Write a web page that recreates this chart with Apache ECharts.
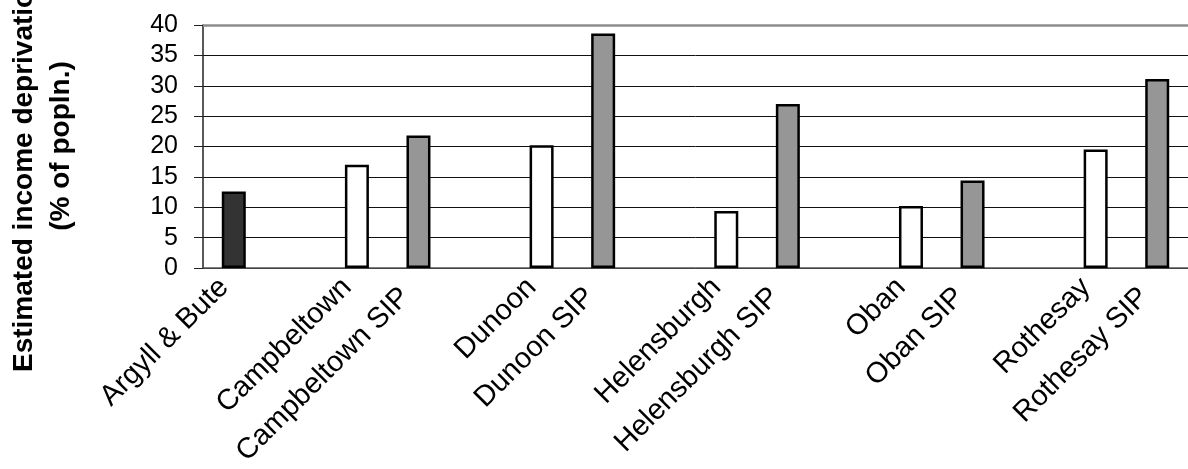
<!DOCTYPE html>
<html>
<head>
<meta charset="utf-8">
<script src="https://cdn.jsdelivr.net/npm/echarts@6/dist/echarts.min.js"></script>
<style>
  html, body { margin: 0; padding: 0; background: #ffffff; }
  #chart { width: 1188px; height: 469px; }
</style>
</head>
<body>
<div id="chart"></div>
<script>
// Areas, with blank slots separating each town pair
const categories = [
  'Argyll & Bute', '',
  'Campbeltown', 'Campbeltown SIP', '',
  'Dunoon', 'Dunoon SIP', '',
  'Helensburgh', 'Helensburgh SIP', '',
  'Oban', 'Oban SIP', '',
  'Rothesay', 'Rothesay SIP'
];
// Estimated income deprivation (% of population); null = empty slot
const values = [
  12.6, null,
  17.0, 21.8, null,
  20.2, 38.6, null,
  9.4, 27.0, null,
  10.2, 14.4, null,
  19.5, 31.1
];
// Bar kind per slot: council area, town, SIP
const kinds = [
  'area', null,
  'town', 'sip', null,
  'town', 'sip', null,
  'town', 'sip', null,
  'town', 'sip', null,
  'town', 'sip'
];
const yTicks = [0, 5, 10, 15, 20, 25, 30, 35, 40];
const axisTitle1 = 'Estimated income deprivation';
const axisTitle2 = '(% of popln.)';

const fills = { area: '#333333', town: '#ffffff', sip: '#969696' };
const FONT = '"Liberation Sans", Arial, sans-serif';

const chart = echarts.init(document.getElementById('chart'), null, { renderer: 'canvas' });

const barData = values.map((v, i) => v === null ? null : {
  value: v,
  itemStyle: { color: fills[kinds[i]] }
});

chart.setOption({
  animation: false,
  backgroundColor: '#ffffff',
  textStyle: { fontFamily: FONT },
  grid: { left: 203, right: -8, top: 25, bottom: 201, containLabel: false },
  xAxis: {
    type: 'category',
    data: categories,
    boundaryGap: true,
    axisLine: { show: true, lineStyle: { color: '#555555', width: 1.5 } },
    axisTick: { show: false },
    axisLabel: {
      interval: 0,
      rotate: 45,
      margin: 12,
      color: '#000000',
      fontSize: 29,
      fontFamily: FONT,
      // SIP labels sit one step lower, as in the staggered layout
      formatter: (val) => val.indexOf('SIP') >= 0 ? '{s|' + val + '}' : '{n|' + val + '}',
      rich: {
        n: { fontSize: 29, fontFamily: FONT, color: '#000000', padding: [0, 9, 10, 0] },
        s: { fontSize: 29, fontFamily: FONT, color: '#000000', padding: [0, 18, 1, 0] }
      }
    },
    splitLine: { show: false }
  },
  yAxis: {
    type: 'value',
    min: yTicks[0],
    max: yTicks[yTicks.length - 1],
    interval: 5,
    axisLine: { show: true, lineStyle: { color: '#222222', width: 1.5 } },
    axisTick: { show: true, inside: false, length: 9, lineStyle: { color: '#222222', width: 1 } },
    axisLabel: {
      fontSize: 25,
      color: '#000000',
      margin: 25,
      fontFamily: FONT
    },
    splitLine: { show: true, lineStyle: { color: '#111111', width: 1 } }
  },
  graphic: [
    {
      type: 'text',
      x: 24, y: 372,
      rotation: Math.PI / 2,
      style: {
        text: axisTitle1,
        fill: '#000000',
        font: 'bold 28px ' + FONT,
        textAlign: 'left',
        textVerticalAlign: 'middle'
      }
    },
    {
      type: 'text',
      x: 61, y: 146,
      rotation: Math.PI / 2,
      style: {
        text: axisTitle2,
        fill: '#000000',
        font: 'bold 28px ' + FONT,
        textAlign: 'center',
        textVerticalAlign: 'middle'
      }
    }
  ],
  series: [{
    type: 'bar',
    data: barData,
    barWidth: 24,
    itemStyle: { borderColor: '#000000', borderWidth: 2.5 },
    markLine: {
      silent: true,
      symbol: 'none',
      label: { show: false },
      lineStyle: { color: '#8c8c8c', width: 2.5, type: 'solid' },
      data: [{ yAxis: yTicks[yTicks.length - 1] }]
    }
  }]
});
</script>
</body>
</html>
